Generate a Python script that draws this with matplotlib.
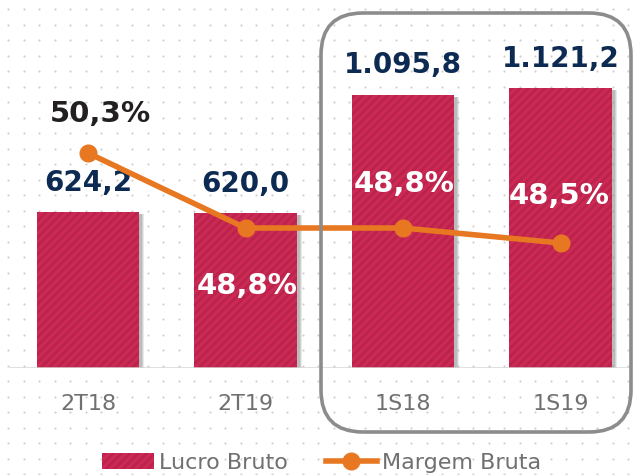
import numpy as np
import matplotlib
matplotlib.use("Agg")
import matplotlib.pyplot as plt
from matplotlib.patches import FancyBboxPatch, Patch
from matplotlib.lines import Line2D
from matplotlib.transforms import IdentityTransform, ScaledTranslation

categories = ["2T18", "2T19", "1S18", "1S19"]
lucro_bruto = [624.2, 620.0, 1095.8, 1121.2]
margem_bruta = [50.3, 48.8, 48.8, 48.5]
lucro_labels = ["624,2", "620,0", "1.095,8", "1.121,2"]
margem_labels = ["50,3%", "48,8%", "48,8%", "48,5%"]

# layout (label offsets in points, colors)
margem_offsets = [(9, 28), (1, -42), (1, 32), (-1, 34)]
margem_colors = ["#231f20", "white", "white", "white"]

W, H = 633, 475
fig = plt.figure(figsize=(W / 100, H / 100), dpi=100)
fig.patch.set_facecolor("white")

# dotted background
bg = fig.add_axes([0, 0, 1, 1], zorder=-10)
bg.set_xlim(0, W)
bg.set_ylim(0, H)
bg.axis("off")
gx, gy = np.meshgrid(np.arange(8, W, 15.5), np.arange(H - 9, 0, -15.5))
bg.scatter(gx.ravel(), gy.ravel(), s=2.4, color="#cfcfcf", linewidths=0)

bar_color = "#cc2a55"
hatch_color = "#ba234b"
plt.rcParams["hatch.linewidth"] = 2.0

ax = fig.add_axes([0, 107 / H, 1, 368 / H])
ax.patch.set_alpha(0)
x = np.arange(len(categories))
ax.set_xlim(-88 / 157.5, -88 / 157.5 + W / 157.5)
ax.set_ylim(0, 368 / 0.2495)

# soft shadows
for dx, a in [(5, 0.18), (4, 0.25), (3, 0.3)]:
    shift = ax.transData + ScaledTranslation(dx / 100, -2 / 100, fig.dpi_scale_trans)
    sh = ax.bar(x, lucro_bruto, width=0.648, color="#8a8a8a", alpha=a, linewidth=0,
                zorder=2)
    for p in sh:
        p.set_transform(shift)

bars = ax.bar(x, lucro_bruto, width=0.648, color=bar_color, edgecolor=hatch_color,
              linewidth=0, hatch="////", zorder=3)
for xi, v, lab in zip(x, lucro_bruto, lucro_labels):
    ax.annotate(lab, (xi, v), xytext=(0, 21), textcoords="offset points",
                ha="center", va="center", fontsize=20, fontweight="bold",
                color="#0d2b52", zorder=6)

ax.axhline(0, xmin=10 / W, xmax=1, color="#d6d6d6", lw=1.8, zorder=4)
for s in ax.spines.values():
    s.set_visible(False)
ax.set_yticks([])
ax.set_xticks(x)
ax.set_xticklabels(categories, fontsize=16, color="#707070")
ax.tick_params(axis="x", length=0, pad=18.5)

ax2 = ax.twinx()
ax2.set_ylim(48.8 - 140 / 50, 48.8 - 140 / 50 + 368 / 50)
ax2.plot(x, margem_bruta, color="#e87722", lw=4, marker="o", markersize=12,
         solid_capstyle="round", zorder=5)
for xi, v, lab, off, c in zip(x, margem_bruta, margem_labels, margem_offsets, margem_colors):
    ax2.annotate(lab, (xi, v), xytext=off, textcoords="offset points",
                 ha="center", va="center", fontsize=21, fontweight="bold", color=c, zorder=7)
ax2.axis("off")

# rounded highlight box
box = FancyBboxPatch((321, 43), 310, 419, boxstyle="round,pad=0,rounding_size=42",
                     transform=IdentityTransform(), fill=False, edgecolor="#8c8c8c",
                     linewidth=2.6, zorder=20)
fig.add_artist(box)

handles = [Patch(facecolor=bar_color, edgecolor=hatch_color, hatch="////", linewidth=0),
           Line2D([0], [0], color="#e87722", lw=4, marker="o", markersize=12)]
leg = fig.legend(handles, ["Lucro Bruto", "Margem Bruta"], loc="center",
                 bbox_to_anchor=(322 / W, 1 - 463 / H), ncol=2, frameon=False,
                 fontsize=16, handlelength=2.3, handletextpad=0.25, columnspacing=1.7,
                 labelcolor="#707070")

fig.savefig("out.png", dpi=100)
